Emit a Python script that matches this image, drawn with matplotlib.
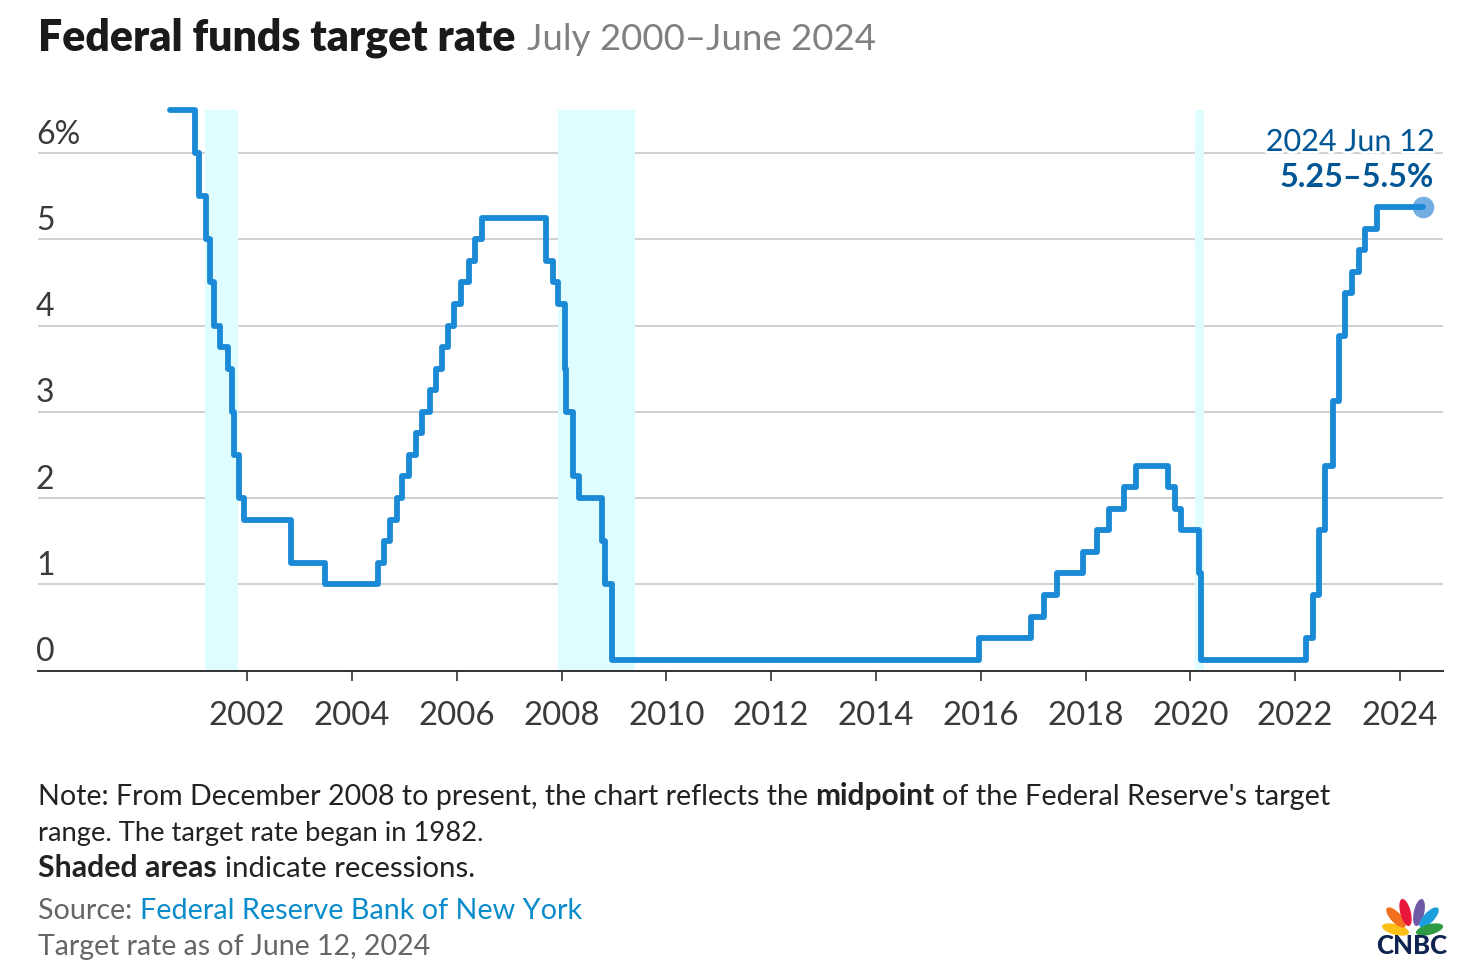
import numpy as np
import matplotlib
matplotlib.use("Agg")
import matplotlib.pyplot as plt
import matplotlib.patheffects as pe
from matplotlib.patches import Ellipse
from datetime import date

W, H = 1480, 972

plt.rcParams['font.family'] = ['Lato', 'DejaVu Sans']

# date the target changed, and the new target (midpoint after Dec 2008)
change_dates = [
    (2000, 7, 12), (2001, 1, 3), (2001, 1, 31), (2001, 3, 20), (2001, 4, 18), (2001, 5, 15),
    (2001, 6, 27), (2001, 8, 21), (2001, 9, 17), (2001, 10, 2), (2001, 11, 6), (2001, 12, 11),
    (2002, 11, 6), (2003, 6, 25), (2004, 6, 30), (2004, 8, 10), (2004, 9, 21), (2004, 11, 10),
    (2004, 12, 14), (2005, 2, 2), (2005, 3, 22), (2005, 5, 3), (2005, 6, 30), (2005, 8, 9),
    (2005, 9, 20), (2005, 11, 1), (2005, 12, 13), (2006, 1, 31), (2006, 3, 28), (2006, 5, 10),
    (2006, 6, 29), (2007, 9, 18), (2007, 10, 31), (2007, 12, 11), (2008, 1, 22), (2008, 1, 30),
    (2008, 3, 18), (2008, 4, 30), (2008, 10, 8), (2008, 10, 29), (2008, 12, 16), (2015, 12, 17),
    (2016, 12, 15), (2017, 3, 16), (2017, 6, 15), (2017, 12, 14), (2018, 3, 22), (2018, 6, 14),
    (2018, 9, 27), (2018, 12, 20), (2019, 8, 1), (2019, 9, 19), (2019, 10, 31), (2020, 3, 4),
    (2020, 3, 16), (2022, 3, 17), (2022, 5, 5), (2022, 6, 16), (2022, 7, 28), (2022, 9, 22),
    (2022, 11, 3), (2022, 12, 15), (2023, 2, 2), (2023, 3, 23), (2023, 5, 4), (2023, 7, 27),
    (2024, 6, 12),
]
rates = [
    6.5, 6.0, 5.5, 5.0, 4.5, 4.0,
    3.75, 3.5, 3.0, 2.5, 2.0, 1.75,
    1.25, 1.0, 1.25, 1.5, 1.75, 2.0,
    2.25, 2.5, 2.75, 3.0, 3.25, 3.5,
    3.75, 4.0, 4.25, 4.5, 4.75, 5.0,
    5.25, 4.75, 4.5, 4.25, 3.5, 3.0,
    2.25, 2.0, 1.5, 1.0, 0.125, 0.375,
    0.625, 0.875, 1.125, 1.375, 1.625, 1.875,
    2.125, 2.375, 2.125, 1.875, 1.625, 1.125,
    0.125, 0.375, 0.875, 1.625, 2.375, 3.125,
    3.875, 4.375, 4.625, 4.875, 5.125, 5.375,
    5.375,
]
recessions = [(2001.2, 2001.83), (2007.93, 2009.41), (2020.09, 2020.25)]
x_ticks = list(range(2002, 2025, 2))
y_ticks = [0, 1, 2, 3, 4, 5, 6]
y_labels = ['0', '1', '2', '3', '4', '5', '6%']


def to_year(d):
    y, m, dd = d
    return y + (date(y, m, dd) - date(y, 1, 1)).days / 365.25


years = np.array([to_year(d) for d in change_dates])

fig = plt.figure(figsize=(W / 100, H / 100), dpi=100)
ax = fig.add_axes([38 / W, 1 - 670.5 / H, (1443 - 38) / W, (670.5 - 110) / H])
ax.set_xlim(1998.01, 2024.82)
ax.set_ylim(0, 6.5)

for start, end in recessions:
    ax.axvspan(start, end, color='#dffdff', lw=0, zorder=1)

ax.set_yticks(y_ticks)
ax.set_yticklabels([])
ax.tick_params(axis='y', length=0)
ax.grid(axis='y', color='#d2d2d2', lw=1.5, zorder=2)
ax.set_axisbelow(True)
for side in ['top', 'left', 'right']:
    ax.spines[side].set_visible(False)
ax.spines['bottom'].set_color('#333333')
ax.spines['bottom'].set_linewidth(1.4)

ax.set_xticks(x_ticks)
ax.set_xticklabels([str(x) for x in x_ticks], fontsize=23.8, color='#3a3a3a')
ax.tick_params(axis='x', length=7, width=1.2, color='#333333', pad=15)

for val, lab in zip(y_ticks, y_labels):
    ax.annotate(lab, xy=(0, val), xycoords=('axes fraction', 'data'), xytext=(-1.5, 2.5),
                textcoords='offset points', fontsize=23, color='#3a3a3a', ha='left', va='bottom')

ax.plot(years[-1], rates[-1], 'o', ms=15.5, color='#74ade2', mec='none', zorder=4, clip_on=False)
ax.step(years, rates, where='post', color='#1b8ad6', lw=4.2, solid_joinstyle='round',
        solid_capstyle='round', zorder=5, clip_on=False)

halo = [pe.withStroke(linewidth=4, foreground='white')]
ax.annotate('2024 Jun 12', xy=(1434 / W, 1 - 151 / H), xycoords='figure fraction', fontsize=22,
            color='#005594', ha='right', va='baseline', path_effects=halo, zorder=6)
ax.annotate('5.25–5.5%', xy=(1434 / W, 1 - 187 / H), xycoords='figure fraction', fontsize=23.3,
            fontweight='bold', color='#005594', ha='right', va='baseline', zorder=6)


def runs(x, y, parts):
    # lay out pieces one after the other, x and y in pixels from top left
    renderer = fig.canvas.get_renderer()
    for txt, weight, col, size in parts:
        t = fig.text(x / W, 1 - y / H, txt, fontsize=size, fontweight=weight, color=col,
                     ha='left', va='baseline')
        x = t.get_window_extent(renderer).x1 + size * 0.36


runs(38, 50, [('Federal funds target rate', 'heavy', '#1a1a1a', 30.8),
              ('July 2000–June 2024', 'normal', '#808080', 26.4)])
runs(38, 805, [('Note: From December 2008 to present, the chart reflects the', 'normal', '#222222', 20.64),
               ('midpoint', 'bold', '#222222', 21.5),
               ("of the Federal Reserve's target", 'normal', '#222222', 20.8)])
runs(38, 841, [('range. The target rate began in 1982.', 'normal', '#222222', 19.7)])
runs(38, 877, [('Shaded areas', 'bold', '#222222', 21.8),
               ('indicate recessions.', 'normal', '#222222', 21.2)])
runs(38, 919, [('Source:', 'normal', '#666666', 20.6),
               ('Federal Reserve Bank of New York', 'normal', '#0a8ccb', 20.7)])
runs(38, 955, [('Target rate as of June 12, 2024', 'normal', '#666666', 20.5)])

# CNBC peacock, in pixel coordinates: colour, base of petal, tip of petal
logo = fig.add_axes([0, 0, 1, 1], facecolor='none')
logo.set_xlim(0, W)
logo.set_ylim(H, 0)
logo.axis('off')
petals = [
    ('#fcc016', (1409, 933), (1382, 926)),
    ('#f37021', (1405, 927), (1387, 908)),
    ('#e6173a', (1409, 926), (1402, 899)),
    ('#6e5aa5', (1416, 926), (1422, 899)),
    ('#1c9fdc', (1420, 927), (1438, 908)),
    ('#2f9a44', (1416, 933), (1443, 926)),
]
for col, base, tip in petals:
    dx, dy = tip[0] - base[0], tip[1] - base[1]
    length = np.hypot(dx, dy)
    logo.add_patch(Ellipse(((base[0] + tip[0]) / 2, (base[1] + tip[1]) / 2), length, 10.5,
                           angle=np.degrees(np.arctan2(dy, dx)), color=col, lw=0))
logo.text(1412, 954, 'CNBC', fontsize=18.5, fontweight='black', color='#0f2450', ha='center', va='baseline')

fig.savefig('out.png', dpi=100)
